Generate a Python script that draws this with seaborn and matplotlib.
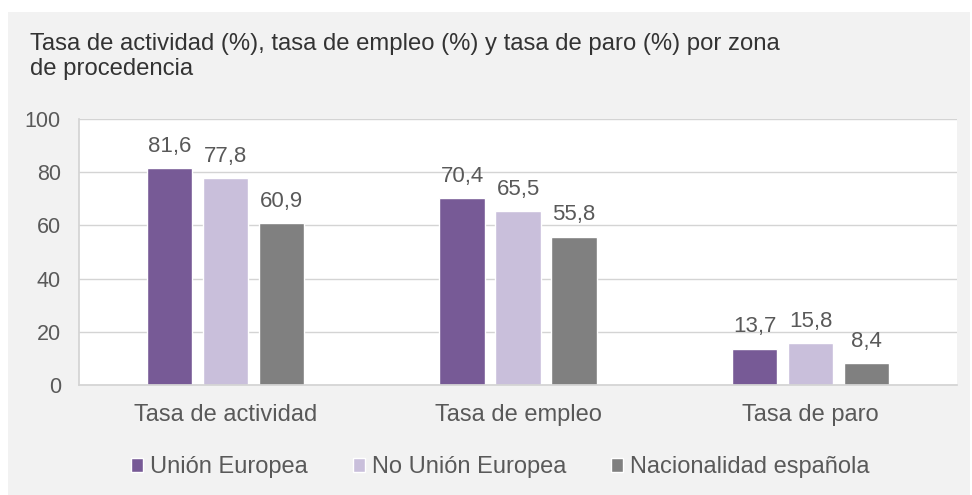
import pandas as pd
import matplotlib.pyplot as plt
import seaborn as sns
from matplotlib.patches import Rectangle

# valores
categorias = ['Tasa de actividad', 'Tasa de empleo', 'Tasa de paro']
zonas = ['Unión Europea', 'No Unión Europea', 'Nacionalidad española']
union_europea = [81.6, 70.4, 13.7]
no_union_europea = [77.8, 65.5, 15.8]
nacionalidad_espanola = [60.9, 55.8, 8.4]
yticks = [0, 20, 40, 60, 80, 100]

colores = ['#775A96', '#C9BFDB', '#808080']
gris_texto = '#595959'

df = pd.DataFrame({
    'categoria': categorias * 3,
    'zona': [zonas[0]] * 3 + [zonas[1]] * 3 + [zonas[2]] * 3,
    'valor': union_europea + no_union_europea + nacionalidad_espanola,
})

sns.set_theme(style="white")
plt.rcParams['font.family'] = ['Liberation Sans', 'DejaVu Sans']

fig = plt.figure(figsize=(9.72, 4.95), dpi=100, facecolor='white')
fig.patches.append(Rectangle((8 / 972, 0), 962 / 972, 483 / 495,
                             transform=fig.transFigure, facecolor='#F2F2F2',
                             edgecolor='none', zorder=-10))
ax = fig.add_axes([79 / 972, 110 / 495, 878 / 972, 266 / 495])
ax.set_facecolor('white')

sns.barplot(data=df, x='categoria', y='valor', hue='zona', palette=colores,
            width=0.574, gap=0.19, ax=ax, legend=True, saturation=1)

for cont in ax.containers:
    ax.bar_label(cont, labels=[f"{v:.1f}".replace('.', ',') for v in cont.datavalues],
                 padding=8, fontsize=16, color=gris_texto)

ax.set_ylim(0, 100)
ax.set_yticks(yticks)
ax.yaxis.grid(True, color='#D4D4D4', linewidth=1)
ax.set_axisbelow(True)
for s in ['top', 'right']:
    ax.spines[s].set_visible(False)
ax.spines['left'].set_color('#D4D4D4')
ax.spines['bottom'].set_color('#D4D4D4')
ax.tick_params(axis='y', labelsize=15.5, labelcolor=gris_texto, length=0, pad=13)
ax.tick_params(axis='x', labelsize=17, labelcolor=gris_texto, length=0, pad=14)
ax.set_xlabel('')
ax.set_ylabel('')

leg = ax.legend(loc='center', bbox_to_anchor=(0.48, -0.31), ncol=3,
                frameon=False, fontsize=17, handlelength=0.5, handleheight=0.5,
                handletextpad=0.3, columnspacing=1.9, labelcolor=gris_texto)

fig.text(30 / 972, 1 - 33 / 495,
         'Tasa de actividad (%), tasa de empleo (%) y tasa de paro (%) por zona\nde procedencia',
         ha='left', va='top', fontsize=17.2, color='#333333', linespacing=1.15)

fig.savefig('out.png', dpi=100, facecolor=fig.get_facecolor())
